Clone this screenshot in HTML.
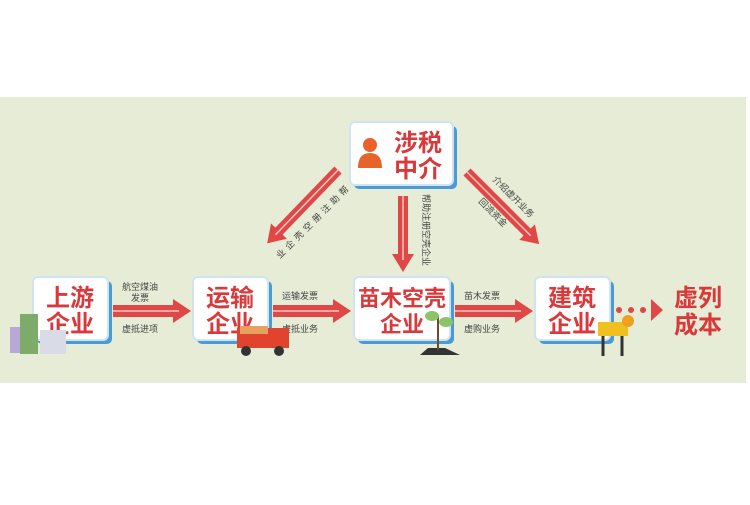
<!DOCTYPE html>
<html><head><meta charset="utf-8"><style>
body{margin:0;width:750px;height:500px;background:#fff;overflow:hidden;font-family:"Liberation Sans","Noto Sans CJK SC",sans-serif}
</style></head><body>
<svg width="750" height="500" xmlns="http://www.w3.org/2000/svg" font-family="Liberation Sans, Noto Sans CJK SC, sans-serif">
<defs>
<g id="hz">
<polygon points="0,-6 60,-6 60,-12 78,0 60,12 60,6 0,6" fill="#e04848"/>
<line x1="0" y1="0" x2="66" y2="0" stroke="#f3c8c0" stroke-width="1.5"/>
</g>
<g id="dg">
<polygon points="0,-5 85,-5 85,-11 102,0 85,11 85,5 0,5" fill="#e04848"/>
<line x1="0" y1="0" x2="90" y2="0" stroke="#f3c8c0" stroke-width="1.5"/>
</g>
</defs>
<rect x="0" y="97" width="746" height="286" fill="#e6ecd5"/>
<g font-weight="bold" fill="#d9393b" font-size="24" text-anchor="middle">
<rect x="37" y="281" width="75" height="63" rx="5" fill="#4a9ad8"/>
<rect x="33" y="277" width="75" height="63" rx="5" fill="#fff" stroke="#cfe3f2" stroke-width="2"/>
<text x="70" y="306">上游</text><text x="70" y="332">企业</text>
<rect x="197" y="281" width="75" height="63" rx="5" fill="#4a9ad8"/>
<rect x="193" y="277" width="75" height="63" rx="5" fill="#fff" stroke="#cfe3f2" stroke-width="2"/>
<text x="230" y="306">运输</text><text x="230" y="332">企业</text>
<rect x="358" y="281" width="96" height="63" rx="5" fill="#4a9ad8"/>
<rect x="354" y="277" width="96" height="63" rx="5" fill="#fff" stroke="#cfe3f2" stroke-width="2"/>
<text x="402" y="306" font-size="22">苗木空壳</text><text x="402" y="332" font-size="22">企业</text>
<rect x="539" y="281" width="75" height="63" rx="5" fill="#4a9ad8"/>
<rect x="535" y="277" width="75" height="63" rx="5" fill="#fff" stroke="#cfe3f2" stroke-width="2"/>
<text x="572" y="306">建筑</text><text x="572" y="332">企业</text>
<rect x="354" y="126" width="103" height="63" rx="5" fill="#4a9ad8"/>
<rect x="350" y="122" width="103" height="63" rx="5" fill="#fff" stroke="#cfe3f2" stroke-width="2"/>
<text x="418" y="151">涉税</text><text x="418" y="177">中介</text>
<circle cx="370" cy="145" r="7" fill="#e8632a"/>
<path d="M358,168 Q358,153 370,153 Q382,153 382,168 Z" fill="#e8632a"/>
<text x="698" y="306">虚列</text><text x="698" y="333">成本</text>
</g>
<use href="#hz" x="113" y="311"/>
<use href="#hz" x="273" y="311"/>
<use href="#hz" x="455" y="311"/>
<use href="#dg" transform="translate(338,170) rotate(134)"/>
<use href="#dg" transform="translate(467,172) rotate(45)"/>
<g transform="translate(403,196)">
<polygon points="-5,0 5,0 5,58 11,58 0,76 -11,58 -5,58" fill="#e04848"/>
<line x1="0" y1="0" x2="0" y2="64" stroke="#f3c8c0" stroke-width="1.5"/>
</g>
<g fill="#e04848"><circle cx="619" cy="310" r="3"/><circle cx="631" cy="310" r="3"/><circle cx="643" cy="310" r="3"/>
<polygon points="651,299 663,310 651,321"/></g>
<g font-size="9" fill="#444" text-anchor="middle">
<text x="140" y="290">航空煤油</text><text x="140" y="301">发票</text><text x="140" y="332">虚抵进项</text>
<text x="300" y="299">运输发票</text><text x="300" y="332">虚抵业务</text>
<text x="482" y="299">苗木发票</text><text x="482" y="332">虚购业务</text>
<text transform="translate(423,194) rotate(90)" text-anchor="start">帮助注册空壳企业</text>
<g transform="rotate(45)">
</g>
<text transform="translate(346,193) rotate(-45)">帮</text>
<text transform="translate(337,202) rotate(-45)">助</text>
<text transform="translate(328,211) rotate(-45)">注</text>
<text transform="translate(319,220) rotate(-45)">册</text>
<text transform="translate(310,229) rotate(-45)">空</text>
<text transform="translate(301,238) rotate(-45)">壳</text>
<text transform="translate(292,247) rotate(-45)">企</text>
<text transform="translate(283,256) rotate(-45)">业</text>
<text transform="translate(492,180) rotate(45)" text-anchor="start">介绍虚开业务</text>
<text transform="translate(478,202) rotate(45)" text-anchor="start">回流资金</text>
</g>
<rect x="10" y="327" width="22" height="26" fill="#b8a8d8"/>
<rect x="20" y="314" width="18" height="40" fill="#7cab6a"/>
<rect x="40" y="330" width="26" height="24" fill="#d9dce6"/>
<rect x="237" y="328" width="52" height="20" fill="#e0432e"/>
<rect x="240" y="326" width="28" height="8" fill="#e8a060"/>
<circle cx="246" cy="351" r="5" fill="#333"/><circle cx="279" cy="351" r="5" fill="#333"/>
<path d="M420,355 L460,355 L445,348 L428,348 Z" fill="#333"/>
<line x1="438" y1="350" x2="438" y2="315" stroke="#6b4b2a" stroke-width="2"/>
<ellipse cx="432" cy="316" rx="7" ry="5" fill="#8cc468"/><ellipse cx="446" cy="322" rx="7" ry="5" fill="#8cc468"/>
<rect x="598" y="322" width="30" height="14" fill="#f0c020"/>
<line x1="603" y1="336" x2="603" y2="356" stroke="#333" stroke-width="3"/><line x1="622" y1="336" x2="622" y2="356" stroke="#333" stroke-width="3"/>
<circle cx="628" cy="321" r="6" fill="#f0a020"/>
</svg>
</body></html>
